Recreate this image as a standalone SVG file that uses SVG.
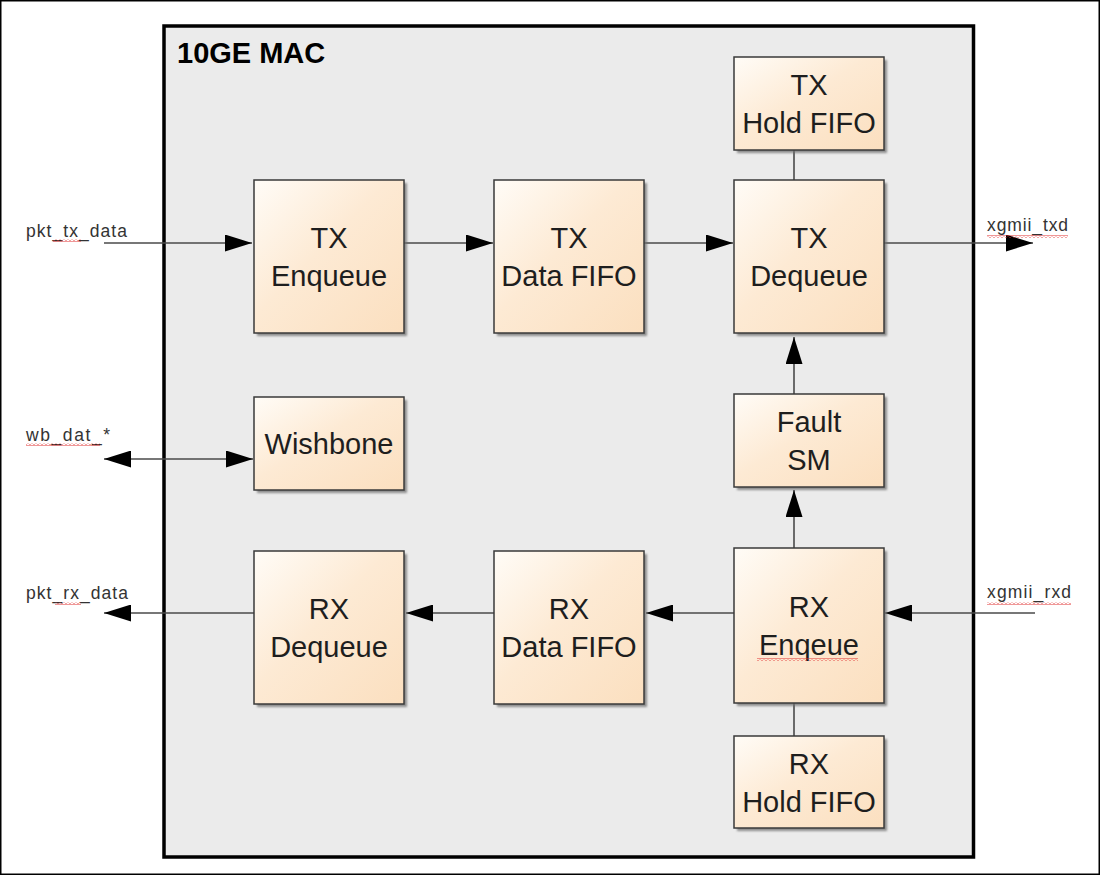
<svg xmlns="http://www.w3.org/2000/svg" width="1101" height="876" viewBox="0 0 1101 876">
<defs>
<linearGradient id="peach" x1="0" y1="0" x2="1" y2="1">
<stop offset="0" stop-color="#fffcf7"/>
<stop offset="0.45" stop-color="#fdead4"/>
<stop offset="1" stop-color="#fbdfbf"/>
</linearGradient>
<filter id="shadow" x="-10%" y="-10%" width="130%" height="130%">
<feGaussianBlur stdDeviation="1.2"/>
</filter>
<marker id="arrow" markerUnits="userSpaceOnUse" markerWidth="27" markerHeight="17" refX="27" refY="8.5" orient="auto-start-reverse" viewBox="0 0 27 17">
<path d="M0,0 L27,8.5 L0,17 z" fill="#000"/>
</marker>
<pattern id="squig" patternUnits="userSpaceOnUse" width="4" height="3">
<path d="M0,2.5 L2,0.5 L4,2.5" fill="none" stroke="#e03030" stroke-width="1"/>
</pattern>
</defs>
<style>
.shadow { fill: #6e6e6e; opacity: 0.75; filter: url(#shadow); }
.box { fill: url(#peach); stroke: #3a3a3a; stroke-width: 1.5; }
.lbl { font-family: "Liberation Sans", Arial, sans-serif; font-size: 29px; fill: #1e1e1e; text-anchor: middle; }
.sig { font-family: "Liberation Sans", Arial, sans-serif; font-size: 17.5px; fill: #333; }
.wire { fill: none; stroke: #4a4a4a; stroke-width: 1.6; }
</style>
<rect x="0" y="0" width="1101" height="876" fill="#fff"/>
<rect x="0.75" y="0.75" width="1098.5" height="873.5" fill="none" stroke="#000" stroke-width="1.5"/>
<g id="mac">
<rect x="164" y="26" width="809.5" height="831" fill="#ebebeb" stroke="#000" stroke-width="3.5"/>
<text x="177" y="63" font-family="Liberation Sans, Arial, sans-serif" font-size="29" font-weight="bold" fill="#000">10GE MAC</text>
</g>
<g id="connectors">
<line class="wire" x1="104" y1="243" x2="252" y2="243" marker-end="url(#arrow)"/>
<line class="wire" x1="404" y1="243" x2="493" y2="243" marker-end="url(#arrow)"/>
<line class="wire" x1="644" y1="243" x2="733" y2="243" marker-end="url(#arrow)"/>
<line class="wire" x1="884" y1="243" x2="1033" y2="243" marker-end="url(#arrow)"/>
<line class="wire" x1="794" y1="150" x2="794" y2="180"/>
<line class="wire" x1="794" y1="394" x2="794" y2="337" marker-end="url(#arrow)"/>
<line class="wire" x1="794" y1="548" x2="794" y2="490" marker-end="url(#arrow)"/>
<line class="wire" x1="794" y1="703" x2="794" y2="736"/>
<line class="wire" x1="104" y1="459" x2="253" y2="459" marker-start="url(#arrow)" marker-end="url(#arrow)"/>
<line class="wire" x1="1035" y1="613" x2="885" y2="613" marker-end="url(#arrow)"/>
<line class="wire" x1="734" y1="613" x2="646" y2="613" marker-end="url(#arrow)"/>
<line class="wire" x1="494" y1="613" x2="406" y2="613" marker-end="url(#arrow)"/>
<line class="wire" x1="254" y1="613" x2="104" y2="613" marker-end="url(#arrow)"/>
</g>
<g id="signals">
<text class="sig" x="26" y="237" textLength="101" lengthAdjust="spacing">pkt_tx_data</text>
<text class="sig" x="987" y="231" textLength="81" lengthAdjust="spacing">xgmii_txd</text>
<text class="sig" x="26" y="441" textLength="84" lengthAdjust="spacing">wb_dat_*</text>
<text class="sig" x="26" y="599" textLength="102" lengthAdjust="spacing">pkt_rx_data</text>
<text class="sig" x="987" y="598" textLength="84" lengthAdjust="spacing">xgmii_rxd</text>
</g>
<g id="spellcheck">
<rect x="53" y="239" width="28" height="3" fill="url(#squig)"/>
<rect x="987" y="235" width="81" height="3" fill="url(#squig)"/>
<rect x="26" y="443" width="74" height="3" fill="url(#squig)"/>
<rect x="55" y="602" width="26" height="3" fill="url(#squig)"/>
<rect x="987" y="602" width="84" height="3" fill="url(#squig)"/>
</g>
<g id="tx-hold-fifo">
<rect class="shadow" x="737" y="60" width="150" height="93"/>
<rect class="box" x="734" y="57" width="150" height="93"/>
<text class="lbl" x="809" y="95">TX</text>
<text class="lbl" x="809" y="133">Hold FIFO</text>
</g>
<g id="tx-enqueue">
<rect class="shadow" x="257" y="183" width="150" height="153"/>
<rect class="box" x="254" y="180" width="150" height="153"/>
<text class="lbl" x="329" y="248">TX</text>
<text class="lbl" x="329" y="286">Enqueue</text>
</g>
<g id="tx-data-fifo">
<rect class="shadow" x="497" y="183" width="150" height="153"/>
<rect class="box" x="494" y="180" width="150" height="153"/>
<text class="lbl" x="569" y="248">TX</text>
<text class="lbl" x="569" y="286">Data FIFO</text>
</g>
<g id="tx-dequeue">
<rect class="shadow" x="737" y="183" width="150" height="153"/>
<rect class="box" x="734" y="180" width="150" height="153"/>
<text class="lbl" x="809" y="248">TX</text>
<text class="lbl" x="809" y="286">Dequeue</text>
</g>
<g id="wishbone">
<rect class="shadow" x="257" y="400" width="150" height="93"/>
<rect class="box" x="254" y="397" width="150" height="93"/>
<text class="lbl" x="329" y="454">Wishbone</text>
</g>
<g id="fault-sm">
<rect class="shadow" x="737" y="397" width="150" height="93"/>
<rect class="box" x="734" y="394" width="150" height="93"/>
<text class="lbl" x="809" y="432">Fault</text>
<text class="lbl" x="809" y="470">SM</text>
</g>
<g id="rx-dequeue">
<rect class="shadow" x="257" y="554" width="150" height="153"/>
<rect class="box" x="254" y="551" width="150" height="153"/>
<text class="lbl" x="329" y="619">RX</text>
<text class="lbl" x="329" y="657">Dequeue</text>
</g>
<g id="rx-data-fifo">
<rect class="shadow" x="497" y="554" width="150" height="153"/>
<rect class="box" x="494" y="551" width="150" height="153"/>
<text class="lbl" x="569" y="619">RX</text>
<text class="lbl" x="569" y="657">Data FIFO</text>
</g>
<g id="rx-enqeue">
<rect class="shadow" x="737" y="551" width="150" height="155"/>
<rect class="box" x="734" y="548" width="150" height="155"/>
<text class="lbl" x="809" y="617">RX</text>
<text class="lbl" x="809" y="655">Enqeue</text>
<rect x="757" y="658" width="101" height="3" fill="url(#squig)"/>
</g>
<g id="rx-hold-fifo">
<rect class="shadow" x="737" y="739" width="150" height="92"/>
<rect class="box" x="734" y="736" width="150" height="92"/>
<text class="lbl" x="809" y="774">RX</text>
<text class="lbl" x="809" y="812">Hold FIFO</text>
</g>
</svg>
